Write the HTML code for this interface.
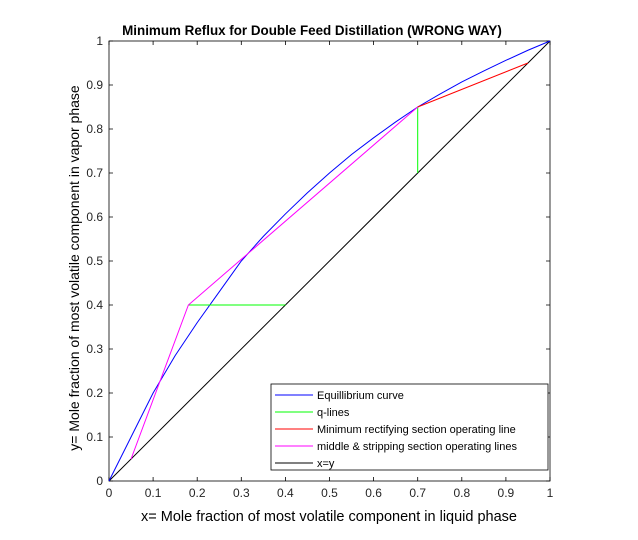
<!DOCTYPE html>
<html><head><meta charset="utf-8"><style>
body{margin:0;background:#fff}
svg{display:block;font-family:"Liberation Sans",Arial,sans-serif}
</style></head><body>
<svg id="chart" width="638" height="540" viewBox="0 0 638 540">
<rect width="638" height="540" fill="#fff"/>
<g id="grid"></g>
<g id="marks"></g>
<text x="312" y="35" text-anchor="middle" font-size="13.4" font-weight="bold">Minimum Reflux for Double Feed Distillation (WRONG WAY)</text>
<text x="329" y="521" text-anchor="middle" font-size="14.5">x= Mole fraction of most volatile component in liquid phase</text>
<text transform="translate(79,268) rotate(-90)" text-anchor="middle" font-size="14">y= Mole fraction of most volatile component in vapor phase</text>
<g id="legend">
<rect x="271" y="384" width="277" height="86" fill="#fff" stroke="#000" stroke-width="0.8"/>
</g>
</svg>
<script>
const ticks=[0,0.1,0.2,0.3,0.4,0.5,0.6,0.7,0.8,0.9,1];
const tickLabels=["0","0.1","0.2","0.3","0.4","0.5","0.6","0.7","0.8","0.9","1"];
const eqX=[0,0.05,0.1,0.15,0.2,0.25,0.3,0.35,0.4,0.45,0.5,0.55,0.6,0.65,0.7,0.75,0.8,0.85,0.9,0.95,1];
const eqY=[0,0.1,0.2,0.285,0.36,0.43,0.5,0.556,0.607,0.655,0.7,0.742,0.78,0.816,0.85,0.879,0.907,0.932,0.956,0.979,1];
const qX1=[0.7,0.7], qY1=[0.7,0.85];
const qX2=[0.18,0.4], qY2=[0.4,0.4];
const rectX=[0.7,0.95], rectY=[0.85,0.95];
const midX=[0.05,0.18,0.7], midY=[0.05,0.4,0.85];
const diagX=[0,1], diagY=[0,1];
const legendLabels=["Equillibrium curve","q-lines","Minimum rectifying section operating line","middle & stripping section operating lines","x=y"];
const legendColors=["#0000ff","#00ff00","#ff0000","#ff00ff","#000000"];

const L=109,R=550,T=41,B=481;
const sx=v=>L+v*(R-L), sy=v=>B-v*(B-T);
const NS="http://www.w3.org/2000/svg";
const grid=document.getElementById('grid'), marks=document.getElementById('marks'), leg=document.getElementById('legend');
function mk(tag,attrs,parent){const e=document.createElementNS(NS,tag);for(const k in attrs)e.setAttribute(k,attrs[k]);parent.appendChild(e);return e;}
const box=mk('rect',{x:L,y:T,width:R-L,height:B-T,fill:'none',stroke:'#000','stroke-width':0.8},grid);


ticks.forEach((t,i)=>{
  const X=sx(t),Y=sy(t);
  const a=mk('path',{d:`M${X},${B}v-4M${X},${T}v4M${L},${Y}h4M${R},${Y}h-4`,stroke:'#000','stroke-width':0.8},grid);
  
  
  const xl=mk('text',{x:X,y:B+16,'text-anchor':'middle','font-size':12,fill:'#262626'},grid);xl.textContent=tickLabels[i];
  
  
  const yl=mk('text',{x:L-6,y:Y+4,'text-anchor':'end','font-size':12,fill:'#262626'},grid);yl.textContent=tickLabels[i];
  
  
});
function line(xs,ys,color,name){
  const p=mk('polyline',{points:xs.map((x,i)=>sx(x)+','+sy(ys[i])).join(' '),fill:'none',stroke:color,'stroke-width':1},marks);
  
  
}
line(diagX,diagY,'#000','x-equals-y-line');
line(eqX,eqY,'#0000ff','equilibrium-curve');
line(qX1,qY1,'#00ff00','q-line-upper');
line(qX2,qY2,'#00ff00','q-line-lower');
line(rectX,rectY,'#ff0000','rectifying-operating-line');
line(midX,midY,'#ff00ff','middle-stripping-operating-line');
legendLabels.forEach((lab,i)=>{
  const y=395+i*17;
  const l=mk('line',{x1:275,x2:313,y1:y,y2:y,stroke:legendColors[i],'stroke-width':1},leg);
  
  
  const t=mk('text',{x:317,y:y+4,'font-size':11},leg);t.textContent=lab;
  
  
});
</script>
</body></html>
